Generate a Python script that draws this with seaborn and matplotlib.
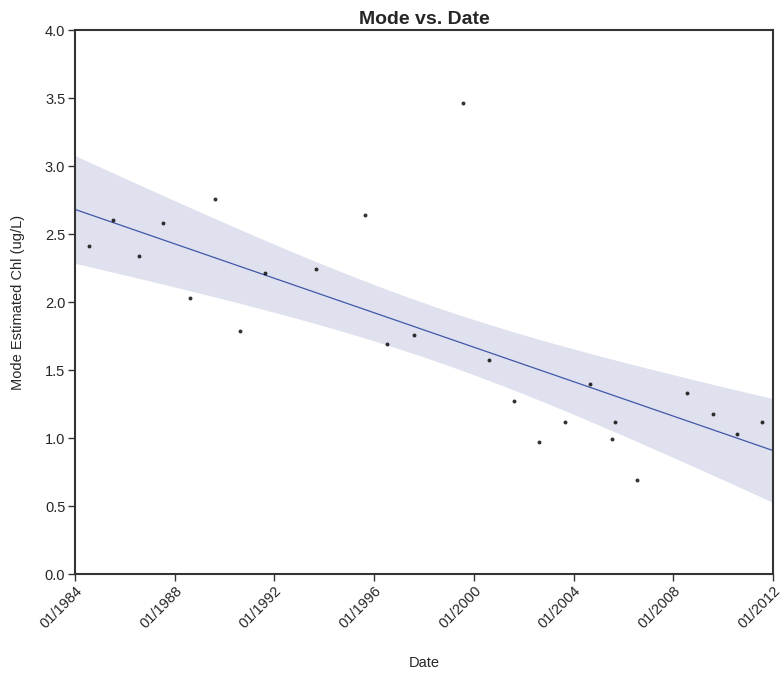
import numpy as np
import pandas as pd
import matplotlib
matplotlib.use("Agg")
import matplotlib.pyplot as plt
import seaborn as sns

# Sampling dates (decimal years) and the mode of estimated chlorophyll
decimal_year = [1984.58, 1985.54, 1986.56, 1987.54, 1988.61, 1989.62, 1990.60,
                1991.62, 1993.66, 1995.65, 1996.51, 1997.59, 1999.58, 2000.61,
                2001.60, 2002.60, 2003.66, 2004.65, 2005.56, 2005.66, 2006.53,
                2008.56, 2009.58, 2010.56, 2011.57]
mode_chl = [2.41, 2.60, 2.34, 2.58, 2.03, 2.76, 1.79,
            2.21, 2.24, 2.64, 1.69, 1.76, 3.46, 1.57,
            1.27, 0.97, 1.12, 1.40, 0.99, 1.12, 0.69,
            1.33, 1.18, 1.03, 1.12]

tick_years = [1984, 1988, 1992, 1996, 2000, 2004, 2008, 2012]
tick_labels = [f"01/{y}" for y in tick_years]
y_ticks = [0.0, 0.5, 1.0, 1.5, 2.0, 2.5, 3.0, 3.5, 4.0]

df = pd.DataFrame({"Date": decimal_year, "Mode": mode_chl})

sns.set_style("white")
plt.rcParams["font.family"] = ["Liberation Sans", "DejaVu Sans"]

fig = plt.figure(figsize=(7.84, 6.73), dpi=100)
ax = fig.add_axes([75 / 784, 1 - 574 / 673, 698 / 784, 544 / 673])
ax.set_xlim(1984, 2012)
ax.set_ylim(0, 4)

# 95% confidence band of the least-squares fit (t-based, df = n - 2)
x = df["Date"].to_numpy()
y = df["Mode"].to_numpy()
n = len(x)
slope, intercept = np.polyfit(x, y, 1)
resid = y - (intercept + slope * x)
s = np.sqrt(np.sum(resid ** 2) / (n - 2))
sxx = np.sum((x - x.mean()) ** 2)
try:
    from scipy import stats
    t_crit = stats.t.ppf(0.975, n - 2)
except Exception:
    t_crit = 2.069
grid = np.linspace(1984, 2012, 200)
fit = intercept + slope * grid
half = t_crit * s * np.sqrt(1 / n + (grid - x.mean()) ** 2 / sxx)
ax.fill_between(grid, fit - half, fit + half, color="#dfe2ee", linewidth=0, zorder=1)

sns.regplot(data=df, x="Date", y="Mode", ax=ax, ci=None, truncate=False,
            color="#4057a8",
            scatter_kws=dict(color="black", marker="s", s=8, linewidths=0, zorder=3),
            line_kws=dict(linewidth=0.9, zorder=2))

ax.set_xlim(1984, 2012)
ax.set_ylim(0, 4)

ax.set_xticks(tick_years)
ax.set_xticklabels(tick_labels, rotation=45, ha="right", rotation_mode="anchor")
ax.set_yticks(y_ticks)
ax.set_yticklabels([f"{v:.1f}" for v in y_ticks])

ax.tick_params(axis="both", which="major", direction="out", length=5, width=1,
               color="#333333", labelsize=10.5, pad=2, left=True, bottom=True)

for side in ["left", "bottom", "top", "right"]:
    ax.spines[side].set_visible(True)
    ax.spines[side].set_color("#333333")
    ax.spines[side].set_linewidth(1.5)
    ax.spines[side].set_zorder(4)

ax.set_xlabel("Date", fontsize=10.5, labelpad=18)
ax.set_ylabel("Mode Estimated Chl (ug/L)", fontsize=10.5, labelpad=14)
ax.set_title("Mode vs. Date", fontsize=14, fontweight="bold", pad=4)

fig.savefig("out.png", dpi=100)
